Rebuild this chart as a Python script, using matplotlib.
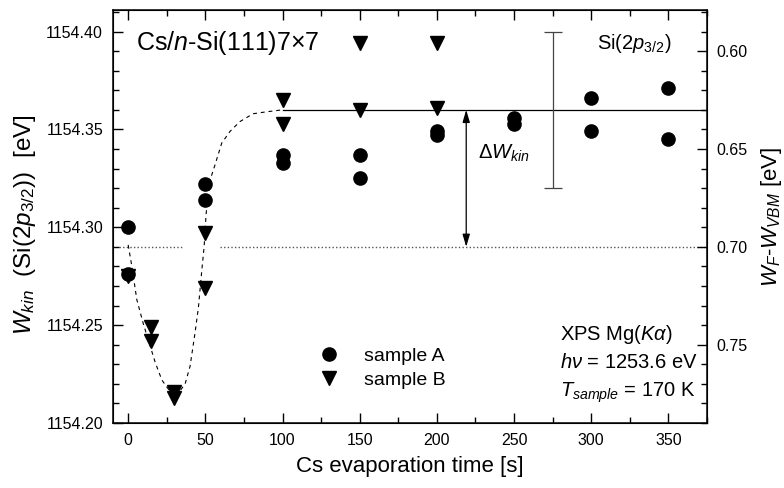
"""Si(2p3/2) kinetic energy versus Cs evaporation time on n-Si(111)7x7."""

import matplotlib

matplotlib.use("Agg")
import matplotlib.pyplot as plt
from matplotlib.ticker import FormatStrFormatter, MultipleLocator

plt.rcParams["font.family"] = ["Liberation Sans", "DejaVu Sans"]
plt.rcParams["mathtext.fontset"] = "custom"
plt.rcParams["mathtext.rm"] = "Liberation Sans"
plt.rcParams["mathtext.it"] = "Liberation Sans:italic"
plt.rcParams["mathtext.bf"] = "Liberation Sans:bold"

time_a = [0, 0, 50, 50, 100, 100, 150, 150, 200, 200, 250, 250, 300, 300, 350, 350]
wkin_a = [1154.300, 1154.276, 1154.322, 1154.314, 1154.337, 1154.333,
          1154.337, 1154.325, 1154.349, 1154.347, 1154.356, 1154.353,
          1154.366, 1154.349, 1154.371, 1154.345]
time_b = [0, 15, 15, 30, 30, 50, 50, 100, 100, 150, 150, 200, 200]
wkin_b = [1154.275, 1154.249, 1154.242, 1154.216, 1154.213, 1154.297,
          1154.269, 1154.365, 1154.353, 1154.394, 1154.360, 1154.394,
          1154.361]

# guide-to-the-eye curve
guide_t = [0, 2.4, 5.6, 9.7, 17.5, 21.8, 27.2, 30.4, 36.9, 40.1, 43.3, 45.5,
           47.7, 49.2, 50.5, 53, 56.3, 60.6, 66, 72.4, 80.9, 89.7, 100]
guide_w = [1154.291, 1154.280, 1154.263, 1154.251, 1154.231, 1154.222,
           1154.216, 1154.213, 1154.220, 1154.229, 1154.246, 1154.259,
           1154.278, 1154.290, 1154.307, 1154.324, 1154.332, 1154.343,
           1154.349, 1154.354, 1154.358, 1154.359, 1154.360]

saturation_w = 1154.360
saturation_t = [100, 375]
clean_w = 1154.290
clean_segments = [(-6, 35.6), (59.5, 375)]
delta_t = 219
scale_t, scale_w, scale_err = 275, 1154.36, 0.04
energy_offset = 1154.99  # W_F - W_VBM = offset - W_kin

fig = plt.figure(figsize=(7.84, 4.88), dpi=100)
ax = fig.add_axes([0.1438, 0.1332, 0.758, 0.8463])

ax.plot(guide_t, guide_w, color="black", lw=0.8, ls=(0, (3.5, 3.5)), zorder=2)
for t0, t1 in clean_segments:
    ax.plot([t0, t1], [clean_w, clean_w], color="#555555", lw=1.0,
            ls=(0, (1, 1.6)), zorder=1)
ax.plot(saturation_t, [saturation_w, saturation_w], color="black", lw=0.9, zorder=1)
ax.annotate("", xy=(delta_t, clean_w), xytext=(delta_t, saturation_w),
            arrowprops=dict(arrowstyle="<|-|>,head_length=0.75,head_width=0.22",
                            mutation_scale=10, color="black", lw=0.9,
                            shrinkA=0, shrinkB=0))
ax.errorbar([scale_t], [scale_w], yerr=[scale_err], fmt="none",
            ecolor="#444444", elinewidth=0.9, capsize=6.5, capthick=0.9)

ax.plot(time_a, wkin_a, "o", color="black", ms=9.5, mec="black", ls="none",
        label="sample A", zorder=3)
ax.plot(time_b, wkin_b, "v", color="black", ms=9.5, mec="black", ls="none",
        label="sample B", zorder=3)

ax.set_xlim(-10, 375)
ax.set_ylim(1154.20, 1154.411)
ax.xaxis.set_major_locator(MultipleLocator(50))
ax.xaxis.set_minor_locator(MultipleLocator(25))
ax.yaxis.set_major_locator(MultipleLocator(0.05))
ax.yaxis.set_minor_locator(MultipleLocator(0.01))
ax.yaxis.set_major_formatter(FormatStrFormatter("%.2f"))
ax.tick_params(which="both", direction="in", top=True, right=False,
               labelsize=11.5, width=1.0)
ax.tick_params(which="major", length=7, pad=7)
ax.tick_params(which="minor", length=4.5)
for spine in ax.spines.values():
    spine.set_linewidth(1.1)

ax2 = ax.twinx()
ax2.set_ylim(energy_offset - 1154.20, energy_offset - 1154.411)
ax2.yaxis.set_major_locator(MultipleLocator(0.05))
ax2.yaxis.set_minor_locator(MultipleLocator(0.01))
ax2.yaxis.set_major_formatter(FormatStrFormatter("%.2f"))
ax2.tick_params(which="both", direction="in", labelsize=11.5, width=1.0)
ax2.tick_params(which="major", length=7, pad=7)
ax2.tick_params(which="minor", length=4.5)

ax.set_xlabel("Cs evaporation time [s]", fontsize=16, labelpad=6)
ax.set_ylabel(r"$W_{kin}$  (Si($\mathit{2p}_{\mathrm{3/2}}$))  [eV]", fontsize=17.5)
ax.yaxis.set_label_coords(-0.125, 0.48)
ax2.set_ylabel(r"$W_F$-$W_{VBM}$ [eV]", fontsize=16, labelpad=8)

ax.text(0.039, 0.903, r"Cs/$n$-Si(111)7×7", transform=ax.transAxes,
        fontsize=18, va="baseline")
ax.text(0.815, 0.906, r"Si($\mathit{2p}_{\mathrm{3/2}}$)", transform=ax.transAxes,
        fontsize=14.5, va="baseline")
ax.text(0.615, 0.639, r"$\Delta W_{kin}$", transform=ax.transAxes,
        fontsize=14.5, va="baseline")
ax.text(0.753, 0.201, r"XPS Mg($K\alpha$)", transform=ax.transAxes,
        fontsize=14.5, va="baseline")
ax.text(0.753, 0.133, r"$h\nu$ = 1253.6 eV", transform=ax.transAxes,
        fontsize=14.5, va="baseline")
ax.text(0.753, 0.063, r"$T_{sample}$ = 170 K", transform=ax.transAxes,
        fontsize=14.5, va="baseline")

ax.legend(loc="center left", bbox_to_anchor=(0.348, 0.133), frameon=False,
          fontsize=14, handlelength=1.0, handletextpad=1.3, labelspacing=0.3,
          borderpad=0, borderaxespad=0)

fig.savefig("out.png", dpi=100)
